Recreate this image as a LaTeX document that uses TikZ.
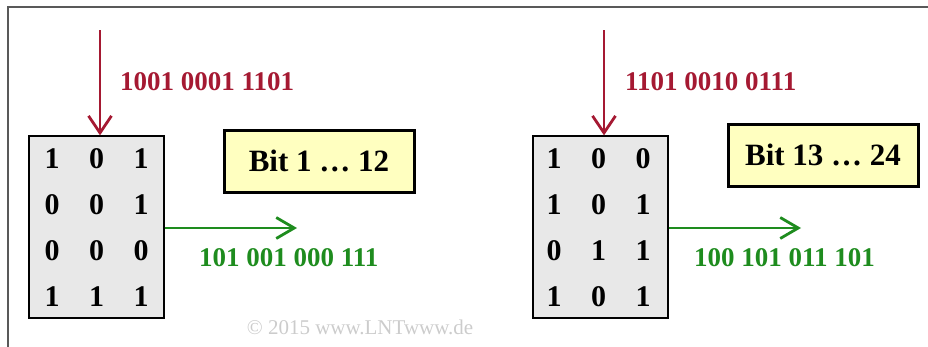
\documentclass[tikz,border=0pt]{standalone}
\usepackage{fontspec}
\setmainfont{Liberation Serif}
\usetikzlibrary{positioning}
\usetikzlibrary{arrows.meta}
\definecolor{lntred}{RGB}{165,25,50}
\definecolor{lntgreen}{RGB}{30,140,30}
\definecolor{lntyellow}{RGB}{255,255,192}
\definecolor{lntgray}{RGB}{232,232,232}

\begin{document}
\begin{tikzpicture}[x=1pt, y=-1pt,
    matbox/.style={rectangle, draw=black, line width=1.3pt, fill=lntgray,
        minimum width=135pt, minimum height=182pt, inner sep=0},
    bitbox/.style={rectangle, draw=black, line width=3pt, fill=lntyellow,
        minimum width=190pt, minimum height=62pt, inner sep=0,
        font=\fontsize{31}{36}\selectfont\bfseries},
    entry/.style={inner sep=0, font=\fontsize{30}{34}\selectfont\bfseries},
    seq/.style={inner sep=0, anchor=west, font=\fontsize{27}{32}\selectfont\bfseries},
    inarrow/.style={draw=lntred, line width=2.8pt,
        -{Straight Barb[length=17pt, width=23pt, line width=2.8pt]}},
    outarrow/.style={draw=lntgreen, line width=2.8pt,
        -{Straight Barb[length=18pt, width=21pt, line width=2.8pt]}}]
    \useasboundingbox (0,0) rectangle (928,346);
    % frame
    \draw[gray!70!black, line width=1.8pt] (8,360) -- (8,7) -- (940,7);
    % interleaver blocks
    \path
        node (matL) at (96.5,227) [matbox] {}
        node (matR) at (600.5,227) [matbox] {};
    \foreach \r/\row in {1/{1,0,1}, 2/{0,0,1}, 3/{0,0,0}, 4/{1,1,1}}
        \foreach \v [count=\c] in \row
            \node (eL-\r-\c) at ({52+(\c-1)*44.5}, {159+(\r-1)*46}) [entry] {\v};
    \foreach \r/\row in {1/{1,0,0}, 2/{1,0,1}, 3/{0,1,1}, 4/{1,0,1}}
        \foreach \v [count=\c] in \row
            \node (eR-\r-\c) at ({554+(\c-1)*44.5}, {159+(\r-1)*46}) [entry] {\v};
    % labels
    \path
        node (bitL) at (319,161) [bitbox] {Bit 1 … 12}
        node (bitR) at (823,155) [bitbox] {Bit 13 … 24}
        node (inL)  at (120,82)  [seq, lntred] {1001 0001 1101}
        node (inR)  at (625,82)  [seq, lntred] {1101 0010 0111}
        node (outL) at (199,258) [seq, lntgreen] {101 001 000 111}
        node (outR) at (694,258) [seq, lntgreen] {100 101 011 101};
    % connectors
    \coordinate (srcL) at (100,30);
    \coordinate (srcR) at (604,30);
    \coordinate (dstL) at (297,228);
    \coordinate (dstR) at (801,228);
    \draw[inarrow] (srcL) -- (srcL |- matL.north);
    \draw[inarrow] (srcR) -- (srcR |- matR.north);
    \draw[outarrow] (matL.east |- dstL) -- (dstL);
    \draw[outarrow] (matR.east |- dstR) -- (dstR);
    \path node (copy) at (360,327) [gray!40, font=\fontsize{21}{24}\selectfont] {© 2015 www.LNTwww.de};
\end{tikzpicture}
\end{document}
